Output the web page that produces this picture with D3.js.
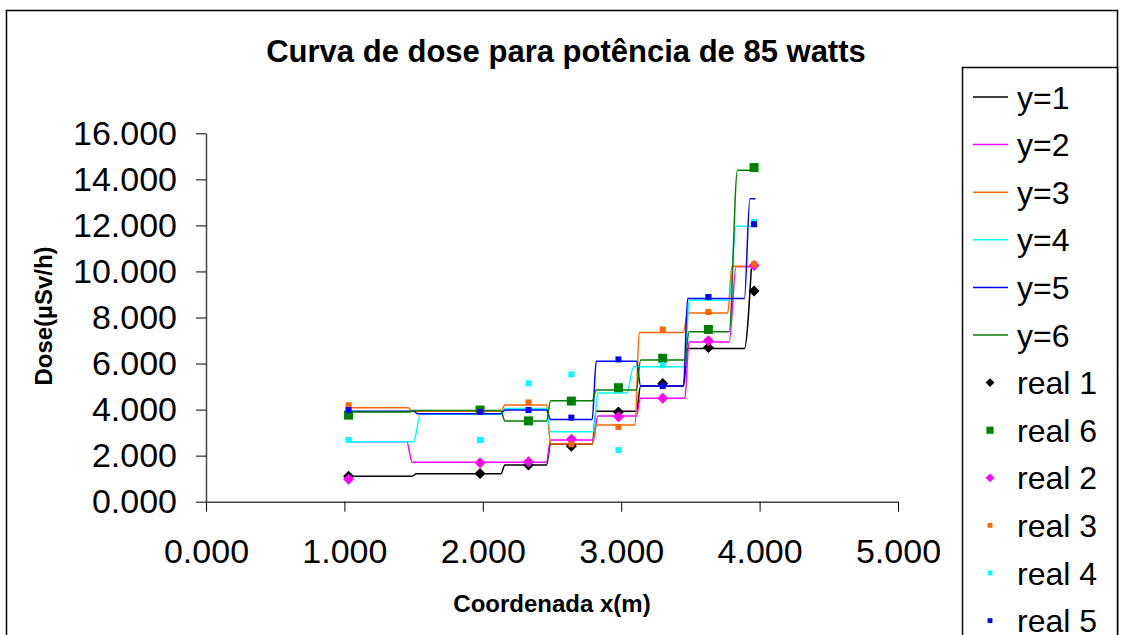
<!DOCTYPE html>
<html>
<head>
    <script src="https://cdn.jsdelivr.net/npm/d3@7"></script>
    <style>
        body { margin: 0; background: #fff; }
        text { font-family: "Liberation Sans", Arial, sans-serif; }
    </style>
</head>
<body>
<script>

    // simulated dose curves, [x (m), dose]
    var lineY1 = [[1.03,1.11],[1.49,1.11],[1.52,1.21],[2.13,1.21],[2.16,1.59],[2.46,1.59],[2.49,2.49],[2.79,2.49],[2.82,3.93],[3.11,3.93],[3.14,5.03],[3.45,5.03],[3.48,6.65],[3.89,6.65],[3.94,10.13]];
    var lineY2 = [[1.03,2.60],[1.45,2.60],[1.49,1.71],[2.46,1.71],[2.49,2.68],[2.80,2.68],[2.83,3.72],[3.11,3.72],[3.14,4.49],[3.46,4.49],[3.49,6.94],[3.78,6.94],[3.83,10.20],[3.97,10.20]];
    var lineY3 = [[1.03,4.08],[1.46,4.08],[1.49,3.93],[2.13,3.93],[2.16,4.20],[2.46,4.20],[2.49,2.51],[2.79,2.51],[2.82,3.33],[3.10,3.33],[3.13,7.35],[3.45,7.35],[3.48,8.20],[3.77,8.20],[3.80,10.23],[3.97,10.23]];
    var lineY4 = [[1.03,2.60],[1.50,2.60],[1.55,3.80],[2.13,3.80],[2.16,4.05],[2.46,4.05],[2.49,3.04],[2.80,3.04],[2.83,4.72],[3.04,4.72],[3.09,5.86],[3.46,5.86],[3.49,8.75],[3.78,8.75],[3.83,11.96],[3.96,11.96]];
    var lineY5 = [[1.03,3.93],[1.50,3.93],[1.53,3.82],[2.13,3.82],[2.16,3.98],[2.46,3.98],[2.49,3.57],[2.79,3.57],[2.82,6.10],[3.11,6.10],[3.14,5.03],[3.45,5.03],[3.48,8.82],[3.89,8.82],[3.93,13.16],[3.97,13.16]];
    var lineY6 = [[1.03,3.90],[1.47,3.90],[1.50,3.96],[2.13,3.96],[2.16,3.51],[2.46,3.51],[2.49,4.38],[2.79,4.38],[2.82,4.85],[3.11,4.85],[3.14,6.15],[3.46,6.15],[3.49,7.38],[3.78,7.38],[3.84,14.39],[3.97,14.39]];

    // measured points
    var realX = [1.03, 1.98, 2.33, 2.64, 2.98, 3.30, 3.63, 3.96];
    var real1 = [1.10, 1.22, 1.59, 2.41, 3.90, 5.13, 6.70, 9.15];
    var real6 = [3.76, 3.98, 3.51, 4.37, 4.95, 6.23, 7.48, 14.51];
    var real2 = [0.98, 1.69, 1.74, 2.71, 3.69, 4.49, 6.99, 10.26];
    var real3 = [4.19, 3.90, 4.31, 2.49, 3.25, 7.48, 8.24, 10.31];
    var real4 = [2.68, 2.68, 5.14, 5.53, 2.24, 5.93, 8.89, 12.15];
    var real5 = [3.98, 3.90, 3.98, 3.65, 6.18, 5.02, 8.89, 12.05];

    var xTicks = [0, 1, 2, 3, 4, 5];
    var yTicks = [0, 2, 4, 6, 8, 10, 12, 14, 16];

    var lineNames = ["y=1", "y=2", "y=3", "y=4", "y=5", "y=6"];
    var realNames = ["real 1", "real 6", "real 2", "real 3", "real 4", "real 5"];

    var lines = [lineY1, lineY2, lineY3, lineY4, lineY5, lineY6];
    var lineColors = ["#000000", "#ff00ff", "#ff6600", "#00ffff", "#0000ff", "#008000"];

    var reals = [real1, real6, real2, real3, real4, real5];
    var realColors = ["#000000", "#008000", "#ff00ff", "#ff6600", "#00ffff", "#0000ff"];
    var realShapes = ["diamond", "bigsquare", "diamond", "square", "square", "square"];

    var width = 1121,
        height = 635,
        plotLeft = 206,
        plotRight = 898,
        plotTop = 133.3,
        plotBottom = 501.7

    var xscale = d3.scaleLinear().domain([0, 5]).range([plotLeft, plotRight]);
    var yscale = d3.scaleLinear().domain([0, 16]).range([plotBottom, plotTop]);

    var svg = d3.select("body")
                .append("svg")
                .attr("width", width)
                .attr("height", height);

    // outer frame
    svg.append("rect")
       .attr("x", 6.5).attr("y", 10.5)
       .attr("width", 1111).attr("height", 640)
       .attr("fill", "none").attr("stroke", "#000").attr("stroke-width", 1.5);

    svg.append("text")
       .attr("x", 566).attr("y", 62)
       .attr("text-anchor", "middle")
       .attr("font-size", 31).attr("font-weight", "bold")
       .text("Curva de dose para potência de 85 watts");

    var yAxis = svg.append("g")
       .attr("transform", "translate(" + plotLeft + ",0)")
       .call(d3.axisLeft(yscale).tickValues(yTicks).tickFormat(d3.format(".3f"))
               .tickSize(10).tickSizeOuter(0).tickPadding(19));

    var xAxis = svg.append("g")
       .attr("transform", "translate(0," + plotBottom + ")")
       .call(d3.axisBottom(xscale).tickValues(xTicks).tickFormat(d3.format(".3f"))
               .tickSize(10).tickSizeOuter(0).tickPadding(27));

    [yAxis, xAxis].forEach((ax) => {
        ax.select(".domain").attr("stroke", "#444").attr("stroke-width", 1.5);
        ax.selectAll(".tick line").attr("stroke", "#000");
        ax.selectAll(".tick text")
          .attr("font-family", "Liberation Sans, Arial, sans-serif")
          .attr("font-size", 34).attr("fill", "#000");
    });

    svg.append("text")
       .attr("transform", "translate(52,316) rotate(-90)")
       .attr("text-anchor", "middle")
       .attr("font-size", 24).attr("font-weight", "bold")
       .text("Dose(µSv/h)");

    svg.append("text")
       .attr("x", 552).attr("y", 612)
       .attr("text-anchor", "middle")
       .attr("font-size", 24).attr("font-weight", "bold")
       .text("Coordenada x(m)");

    var line = d3.line()
                 .x((d) => xscale(d[0]))
                 .y((d) => yscale(d[1]))
                 .curve(d3.curveMonotoneX);

    svg.selectAll(".curve")
       .data(lines)
       .enter()
       .append("path")
       .attr("class", "curve")
       .attr("d", line)
       .attr("fill", "none")
       .attr("stroke", (d, i) => lineColors[i])
       .attr("stroke-width", 1.5);

    function marker(sel, shape, color, cx, cy, scale) {
        if (shape == "diamond") {
            var r = 5.5 * scale;
            sel.append("path")
               .attr("d", "M" + cx + "," + (cy - r) + "L" + (cx + r) + "," + cy + "L" + cx + "," + (cy + r) + "L" + (cx - r) + "," + cy + "Z")
               .attr("fill", color);
        } else {
            var s = (shape == "bigsquare" ? 9 : 6) * scale;
            sel.append("rect")
               .attr("x", cx - s / 2).attr("y", cy - s / 2)
               .attr("width", s).attr("height", s)
               .attr("fill", color);
        }
    }

    var pts = svg.append("g");
    reals.forEach((vals, k) => {
        vals.forEach((v, i) => {
            marker(pts, realShapes[k], realColors[k], xscale(realX[i]), yscale(v), 1);
        });
    });

    // legend
    var legend = svg.append("g");
    legend.append("rect")
          .attr("x", 962.5).attr("y", 67.5)
          .attr("width", 155).attr("height", 600)
          .attr("fill", "#fff").attr("stroke", "#000").attr("stroke-width", 1.5);

    var names = lineNames.concat(realNames);
    names.forEach((name, i) => {
        var cy = 97 + i * 47.6;
        if (i < 6) {
            legend.append("line")
                  .attr("x1", 973).attr("x2", 1008)
                  .attr("y1", cy).attr("y2", cy)
                  .attr("stroke", lineColors[i]).attr("stroke-width", 1.5);
        } else {
            marker(legend, realShapes[i - 6], realColors[i - 6], 990, cy, 0.8);
        }
        legend.append("text")
              .attr("x", 1017).attr("y", cy)
              .attr("dy", "0.36em")
              .attr("font-size", 32)
              .text(name);
    });

</script>

</body>
</html>
